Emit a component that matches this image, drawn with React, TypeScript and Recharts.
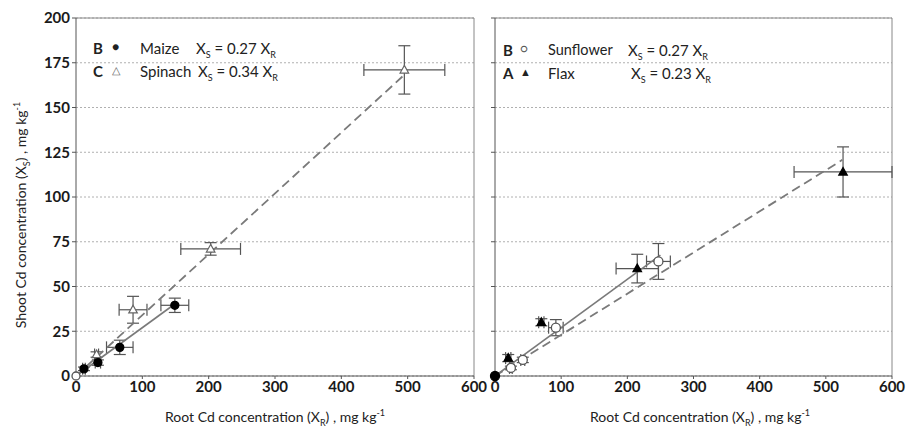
import React from 'react'
import { ScatterChart, Scatter, XAxis, YAxis, CartesianGrid, ErrorBar, ReferenceLine } from 'recharts'

// Left panel: maize (filled circles) and spinach (open triangles)
const maizeRoot = [12, 33, 66, 149]
const maizeShoot = [4, 7.5, 16, 39.5]
const maizeRootErr = [2, 4, 20, 21]
const maizeShootErr = [1, 1.5, 4, 4]

const spinachRoot = [31, 86, 203, 495]
const spinachShoot = [12, 37, 71, 171]
const spinachRootErr = [3, 21, 45, 61]
const spinachShootErr = [1.5, 7.5, 3.5, 13.5]

// Right panel: sunflower (open circles) and flax (filled triangles)
const sunflowerRoot = [24, 42, 92, 247]
const sunflowerShoot = [4.5, 9, 27, 64]
const sunflowerRootErr = [2, 3, 11, 18]
const sunflowerShootErr = [1, 1.5, 4.5, 10]

const flaxRoot = [20, 70, 215, 526]
const flaxShoot = [10, 30, 60, 114]
const flaxRootErr = [4, 4, 32, 74]
const flaxShootErr = [2, 2, 8, 14]

// fitted lines: slope and end of the fit on the root axis
const fitSlopes = { maize: 0.27, spinach: 0.34, sunflower: 0.27, flax: 0.23 }
const fitEnds = { maize: 150, spinach: 500, sunflower: 250, flax: 525 }

const xTicks = [0, 100, 200, 300, 400, 500, 600]
const yTicks = [0, 25, 50, 75, 100, 125, 150, 175, 200]

const FONT = 'Lato, "Open Sans", sans-serif'

const rows = (xs: number[], ys: number[], exs: number[], eys: number[]) =>
  xs.map((x, i) => ({ x, y: ys[i], ex: exs[i], ey: eys[i] }))

const fitLine = (key: keyof typeof fitSlopes) => [
  { x: 0, y: 0 },
  { x: fitEnds[key], y: fitSlopes[key] * fitEnds[key] },
]

const origin = [{ x: 0, y: 0 }]

const dot = (fill: string, stroke: string, r: number) => (p: any) => (
  <circle cx={p.cx} cy={p.cy} r={r} fill={fill} stroke={stroke} strokeWidth={1.3} />
)
const tri = (fill: string, stroke: string, s: number) => (p: any) => (
  <path
    d={`M${p.cx},${p.cy - s} L${p.cx + s * 0.95},${p.cy + s * 0.7} L${p.cx - s * 0.95},${p.cy + s * 0.7} Z`}
    fill={fill}
    stroke={stroke}
    strokeWidth={1.2}
  />
)
const none = () => <g />

const tickStyle = { fontSize: 15, fill: '#1a1a1a', fontFamily: FONT, fontWeight: 700 }
const axisStroke = '#555'
const errStroke = '#555'
const lineGray = '#7a7a7a'

function Panel({ left, width, marginLeft, marginRight, yLabels, children }: any) {
  return (
    <div style={{ position: 'absolute', left, top: 0 }}>
      <ScatterChart
        width={width}
        height={435}
        margin={{ top: 18, right: marginRight, bottom: 29, left: marginLeft }}
      >
        <CartesianGrid vertical={false} stroke="#b0b0b0" strokeDasharray="2 2" />
        <XAxis
          type="number"
          dataKey="x"
          domain={[0, 600]}
          ticks={xTicks}
          tick={tickStyle}
          tickSize={3}
          stroke={axisStroke}
          height={30}
          interval={0}
        />
        <YAxis
          type="number"
          dataKey="y"
          domain={[0, 200]}
          ticks={yTicks}
          tick={yLabels ? tickStyle : { fontSize: 0 }}
          tickFormatter={(v: number) => (yLabels ? String(v) : '')}
          tickSize={4}
          stroke={axisStroke}
          width={yLabels ? 40 : 30}
          interval={0}
        />
        <ReferenceLine y={200} stroke="#888" />
        <ReferenceLine x={600} stroke="#888" />
        {children}
      </ScatterChart>
    </div>
  )
}

export default function App() {
  const maize = rows(maizeRoot, maizeShoot, maizeRootErr, maizeShootErr)
  const spinach = rows(spinachRoot, spinachShoot, spinachRootErr, spinachShootErr)
  const sunflower = rows(sunflowerRoot, sunflowerShoot, sunflowerRootErr, sunflowerShootErr)
  const flax = rows(flaxRoot, flaxShoot, flaxRootErr, flaxShootErr)

  const label: React.CSSProperties = { position: 'absolute', fontFamily: FONT, fontSize: 15, color: '#222', whiteSpace: 'nowrap', lineHeight: '16px' }
  const sub: React.CSSProperties = { fontSize: 9, verticalAlign: 'sub' }
  const sup: React.CSSProperties = { fontSize: 9, verticalAlign: 'super' }

  return (
    <div style={{ position: 'absolute', left: 0, top: 0, width: 917, height: 435, background: '#fff', overflow: 'hidden' }}>
      <Panel left={0} width={492} marginLeft={36} marginRight={18} yLabels>
        <Scatter data={fitLine('spinach')} line={{ stroke: lineGray, strokeWidth: 1.8, strokeDasharray: '9 5' }} shape={none} isAnimationActive={false} />
        <Scatter data={fitLine('maize')} line={{ stroke: lineGray, strokeWidth: 1.6 }} shape={none} isAnimationActive={false} />
        <Scatter data={spinach} shape={tri('#fff', '#666', 4.5)} isAnimationActive={false}>
          <ErrorBar dataKey="ex" direction="x" width={6} stroke={errStroke} strokeWidth={1.2} />
          <ErrorBar dataKey="ey" direction="y" width={6} stroke={errStroke} strokeWidth={1.2} />
        </Scatter>
        <Scatter data={maize} shape={dot('#000', '#000', 4)} isAnimationActive={false}>
          <ErrorBar dataKey="ex" direction="x" width={6} stroke={errStroke} strokeWidth={1.2} />
          <ErrorBar dataKey="ey" direction="y" width={6} stroke={errStroke} strokeWidth={1.2} />
        </Scatter>
        <Scatter data={origin} shape={dot('#fff', '#555', 4)} isAnimationActive={false} />
      </Panel>

      <Panel left={455} width={462} marginLeft={10} marginRight={25} yLabels={false}>
        <Scatter data={fitLine('flax')} line={{ stroke: lineGray, strokeWidth: 1.8, strokeDasharray: '9 5' }} shape={none} isAnimationActive={false} />
        <Scatter data={fitLine('sunflower')} line={{ stroke: lineGray, strokeWidth: 1.6 }} shape={none} isAnimationActive={false} />
        <Scatter data={flax} shape={tri('#000', '#000', 4.5)} isAnimationActive={false}>
          <ErrorBar dataKey="ex" direction="x" width={6} stroke={errStroke} strokeWidth={1.2} />
          <ErrorBar dataKey="ey" direction="y" width={6} stroke={errStroke} strokeWidth={1.2} />
        </Scatter>
        <Scatter data={sunflower} shape={dot('#fff', '#555', 4.5)} isAnimationActive={false}>
          <ErrorBar dataKey="ex" direction="x" width={6} stroke={errStroke} strokeWidth={1.2} />
          <ErrorBar dataKey="ey" direction="y" width={6} stroke={errStroke} strokeWidth={1.2} />
        </Scatter>
        <Scatter data={origin} shape={dot('#000', '#000', 4.5)} isAnimationActive={false} />
      </Panel>

      {/* left legend */}
      <div style={{ ...label, left: 93, top: 40, fontWeight: 700 }}>B</div>
      <div style={{ ...label, left: 112, top: 39, fontSize: 12 }}>●</div>
      <div style={{ ...label, left: 140, top: 40 }}>Maize</div>
      <div style={{ ...label, left: 196, top: 40 }}>X<span style={sub}>S</span> = 0.27 X<span style={sub}>R</span></div>
      <div style={{ ...label, left: 93, top: 63, fontWeight: 700 }}>C</div>
      <div style={{ ...label, left: 112, top: 62, fontSize: 11, color: '#666' }}>△</div>
      <div style={{ ...label, left: 140, top: 63 }}>Spinach</div>
      <div style={{ ...label, left: 198, top: 63 }}>X<span style={sub}>S</span> = 0.34 X<span style={sub}>R</span></div>

      {/* right legend */}
      <div style={{ ...label, left: 503, top: 42, fontWeight: 700 }}>B</div>
      <div style={{ ...label, left: 520, top: 41, fontSize: 12, color: '#555' }}>○</div>
      <div style={{ ...label, left: 548, top: 42, fontSize: 14.5 }}>Sunflower</div>
      <div style={{ ...label, left: 628, top: 42 }}>X<span style={sub}>S</span> = 0.27 X<span style={sub}>R</span></div>
      <div style={{ ...label, left: 503, top: 65, fontWeight: 700 }}>A</div>
      <div style={{ ...label, left: 520, top: 64, fontSize: 11 }}>▲</div>
      <div style={{ ...label, left: 548, top: 65 }}>Flax</div>
      <div style={{ ...label, left: 631, top: 65 }}>X<span style={sub}>S</span> = 0.23 X<span style={sub}>R</span></div>

      {/* axis titles */}
      <div style={{ ...label, left: 22, top: 215, transform: 'translate(-50%, -50%) rotate(-90deg)', fontSize: 14 }}>
        Shoot Cd concentration (X<span style={sub}>S</span>) , mg kg<span style={sup}>-1</span>
      </div>
      <div style={{ ...label, left: 275, top: 418, transform: 'translate(-50%, -50%)', fontSize: 14 }}>
        Root Cd concentration (X<span style={sub}>R</span>) , mg kg<span style={sup}>-1</span>
      </div>
      <div style={{ ...label, left: 700, top: 418, transform: 'translate(-50%, -50%)', fontSize: 14 }}>
        Root Cd concentration (X<span style={sub}>R</span>) , mg kg<span style={sup}>-1</span>
      </div>
    </div>
  )
}
